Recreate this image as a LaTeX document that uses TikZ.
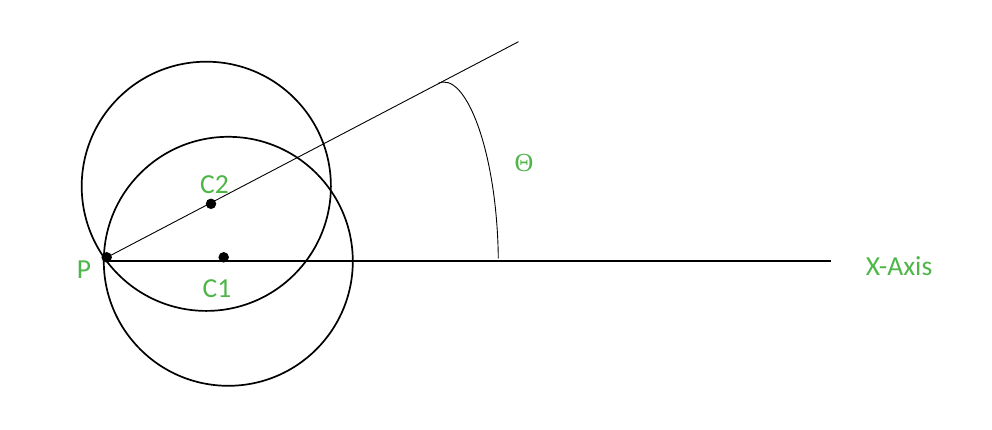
\documentclass[tikz,border=0pt]{standalone}
\usepackage{fontspec}
\setmainfont{Carlito}
\newfontfamily\thetafont{Liberation Serif}
\definecolor{lblgreen}{RGB}{78,182,72}
\tikzset{
  lbl/.style={text=lblgreen, font=\fontsize{27.5}{31}\selectfont, inner sep=0pt},
  dotnode/.style={circle, fill=black, inner sep=0pt, minimum size=10.5pt},
  bigcirc/.style={draw=black, line width=1.7pt},
  thin/.style={draw=black, line width=0.9pt}
}
\begin{document}
\begin{tikzpicture}[x=1pt,y=-1pt]
\useasboundingbox (0,0) rectangle (992,429);
% circles
\draw[bigcirc] (228.3,261.3) circle (124.5);
\draw[bigcirc] (206.3,186.3) circle (124.6);
% points
\coordinate (axisP) at (107,261);
\coordinate (axisEnd) at (830.5,261);
\coordinate (rayEnd) at (518.5,41.7);
\coordinate (arcStart) at (438,83.5);
\coordinate (arcEnd) at (498.3,258.3);
% lines
\draw[line width=1.1pt] (axisP) -- (axisEnd);
\draw[thin] (107,257.3) -- (rayEnd);
\draw[thin] (arcStart) .. controls (465,70) and (497,150) .. (arcEnd);
% dots
\node[dotnode] (P) at (106.7,257.3) {};
\node[dotnode] (C1) at (223.7,257.3) {};
\node[dotnode] (C2) at (211,203.8) {};
% labels
\node[lbl] (Plbl) at (84,270) {P};
\node[lbl] (C1lbl) at (217,288.5) {C1};
\node[lbl] (C2lbl) at (214.5,185) {C2};
\node[lbl, font=\thetafont\fontsize{26}{30}\selectfont] (Theta) at (524,163) {Θ};
\node[lbl] (Xlbl) at (899,266.5) {X-Axis};
\end{tikzpicture}
\end{document}
